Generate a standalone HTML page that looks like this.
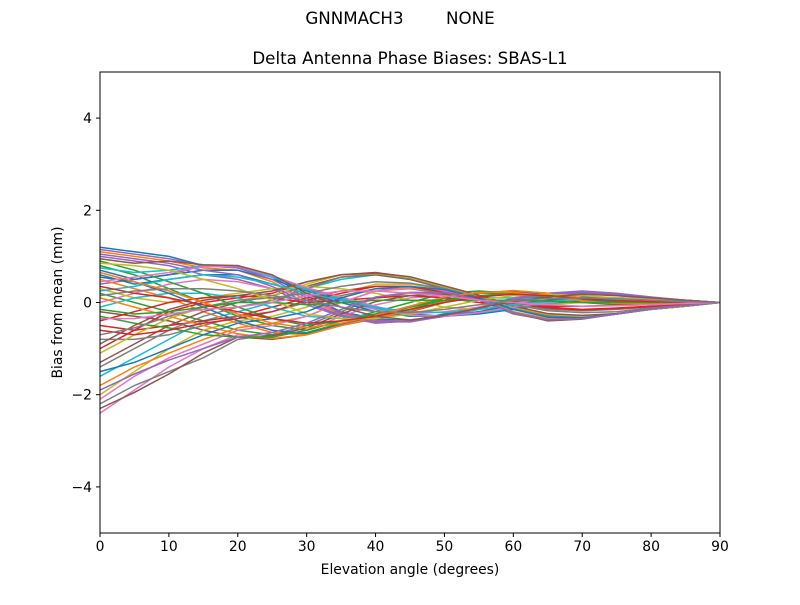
<!DOCTYPE html>
<html><head><meta charset="utf-8"><style>
body{margin:0;background:#fff;}
svg text{font-family:"DejaVu Sans","Liberation Sans",sans-serif;fill:#000;}
</style></head><body>
<svg id="chart" width="800" height="600" xmlns="http://www.w3.org/2000/svg">
<rect width="800" height="600" fill="#fff"/>
<text x="400" y="24" text-anchor="middle" font-size="16.7" xml:space="preserve">GNNMACH3        NONE</text>
<text x="410" y="64" text-anchor="middle" font-size="16.7">Delta Antenna Phase Biases: SBAS-L1</text>
<g id="lines"></g>
<rect x="100" y="72" width="620" height="461" fill="none" stroke="#000" stroke-width="1"/>
<g id="xaxis"></g>
<g id="yaxis"></g>
<text x="410" y="574" text-anchor="middle" font-size="13.9">Elevation angle (degrees)</text>
<text transform="translate(62,302.5) rotate(-90)" text-anchor="middle" font-size="13.9">Bias from mean (mm)</text>
</svg>
<script>
const elevations=[0,5,10,15,20,25,30,35,40,45,50,55,60,65,70,75,80,85,90];
const xTicks=[0,10,20,30,40,50,60,70,80,90];
const yTicks=[-4,-2,0,2,4];
const yTickLabels=["\u22124","\u22122","0","2","4"];
const series=[
[1.2,1.1,1.0,0.8,0.8,0.55,0.15,-0.2,-0.35,-0.4,-0.25,-0.1,0.05,0.15,0.2,0.15,0.1,0.05,0],
[1.1,1.0,0.9,0.75,0.7,0.45,0.05,-0.25,-0.4,-0.4,-0.3,-0.1,0.1,0.2,0.22,0.17,0.1,0.05,0],
[0.8,0.6,0.3,0.0,-0.3,-0.5,-0.6,-0.4,-0.2,0.0,0.2,0.25,0.2,0.1,0.0,-0.05,-0.05,-0.02,0],
[-1.0,-0.6,-0.2,0.0,0.1,0.2,0.45,0.6,0.65,0.55,0.35,0.15,-0.1,-0.25,-0.3,-0.25,-0.15,-0.08,0],
[0.4,0.5,0.6,0.8,0.75,0.55,0.3,0.1,-0.1,-0.3,-0.3,-0.2,-0.1,0.0,0.1,0.1,0.08,0.04,0],
[-0.2,-0.3,-0.4,-0.6,-0.75,-0.8,-0.7,-0.5,-0.35,-0.2,0.0,0.2,0.25,0.2,0.1,0.05,0.02,0.01,0],
[-2.4,-1.9,-1.4,-1.0,-0.7,-0.75,-0.6,-0.3,-0.05,0.1,0.15,0.1,-0.2,-0.4,-0.35,-0.25,-0.15,-0.08,0],
[-2.2,-1.8,-1.5,-1.2,-0.8,-0.7,-0.5,-0.2,0.1,0.2,0.2,0.05,-0.25,-0.38,-0.35,-0.25,-0.15,-0.07,0],
[-2.0,-1.5,-1.0,-0.6,-0.4,-0.3,-0.1,0.2,0.4,0.4,0.3,0.1,-0.2,-0.35,-0.35,-0.25,-0.14,-0.07,0],
[-1.6,-1.2,-0.8,-0.4,-0.2,0.0,0.3,0.5,0.6,0.5,0.35,0.15,-0.15,-0.3,-0.32,-0.25,-0.15,-0.07,0],
[0.7,0.5,0.6,0.7,0.7,0.5,0.25,0.05,-0.15,-0.25,-0.3,-0.25,-0.15,-0.05,0.05,0.08,0.06,0.03,0],
[0.5,0.3,0.1,-0.2,-0.45,-0.65,-0.7,-0.5,-0.3,-0.1,0.1,0.2,0.25,0.15,0.05,0.0,0.0,0.0,0],
[0.2,0.0,-0.2,-0.4,-0.6,-0.7,-0.65,-0.45,-0.3,-0.15,0.05,0.2,0.25,0.2,0.1,0.05,0.02,0.01,0],
[-0.5,-0.6,-0.5,-0.4,-0.3,-0.1,0.1,0.25,0.35,0.35,0.25,0.1,0.0,-0.1,-0.15,-0.12,-0.08,-0.04,0],
[1.0,0.9,0.8,0.6,0.5,0.3,-0.05,-0.3,-0.45,-0.4,-0.3,-0.15,0.1,0.2,0.25,0.2,0.12,0.05,0],
[-1.3,-0.9,-0.5,-0.2,0.0,0.15,0.35,0.55,0.6,0.5,0.3,0.12,-0.12,-0.28,-0.3,-0.25,-0.14,-0.07,0],
[0.0,0.2,0.4,0.5,0.45,0.3,0.15,0.0,-0.15,-0.25,-0.2,-0.1,0.0,0.05,0.1,0.08,0.05,0.02,0],
[-0.8,-0.8,-0.7,-0.5,-0.3,-0.2,0.0,0.15,0.3,0.3,0.2,0.05,-0.05,-0.15,-0.18,-0.15,-0.1,-0.05,0],
[0.3,0.1,0.0,0.1,0.2,0.3,0.35,0.3,0.2,0.05,-0.1,-0.15,-0.1,-0.05,0.0,0.02,0.02,0.01,0],
[-0.1,0.1,0.2,0.2,0.1,-0.1,-0.3,-0.35,-0.25,-0.1,0.05,0.1,0.1,0.08,0.05,0.03,0.02,0.01,0],
[0.6,0.4,0.5,0.6,0.6,0.4,0.2,0.0,-0.2,-0.3,-0.3,-0.2,-0.05,0.05,0.12,0.1,0.07,0.03,0],
[-1.8,-1.4,-1.1,-0.8,-0.55,-0.45,-0.3,0.0,0.25,0.3,0.25,0.08,-0.2,-0.36,-0.34,-0.25,-0.14,-0.07,0],
[0.9,0.7,0.45,0.2,-0.1,-0.35,-0.5,-0.4,-0.3,-0.1,0.1,0.2,0.2,0.15,0.05,0.0,-0.02,-0.01,0],
[-0.4,-0.2,0.0,0.1,0.15,0.1,0.0,0.05,0.1,0.15,0.1,0.0,-0.05,-0.08,-0.08,-0.06,-0.04,-0.02,0],
[1.15,1.05,0.95,0.8,0.75,0.5,0.1,-0.22,-0.38,-0.42,-0.28,-0.12,0.08,0.17,0.21,0.16,0.1,0.05,0],
[-2.3,-1.95,-1.55,-1.1,-0.75,-0.72,-0.55,-0.25,0.02,0.15,0.18,0.08,-0.22,-0.4,-0.36,-0.25,-0.15,-0.08,0],
[-2.1,-1.6,-1.2,-0.9,-0.6,-0.5,-0.3,0.0,0.25,0.32,0.25,0.08,-0.22,-0.37,-0.35,-0.25,-0.14,-0.07,0],
[-1.4,-1.0,-0.6,-0.3,-0.1,0.05,0.3,0.55,0.62,0.52,0.32,0.14,-0.12,-0.3,-0.31,-0.24,-0.14,-0.07,0],
[-1.1,-0.7,-0.35,-0.1,0.05,0.15,0.4,0.6,0.63,0.54,0.34,0.15,-0.1,-0.26,-0.3,-0.25,-0.15,-0.08,0],
[0.75,0.65,0.7,0.8,0.78,0.55,0.28,0.08,-0.12,-0.28,-0.3,-0.22,-0.12,-0.02,0.08,0.1,0.07,0.03,0],
[0.55,0.45,0.2,-0.1,-0.4,-0.6,-0.68,-0.48,-0.28,-0.08,0.12,0.22,0.24,0.16,0.06,0.0,-0.01,0.0,0],
[0.1,-0.1,-0.3,-0.5,-0.68,-0.78,-0.7,-0.5,-0.33,-0.18,0.02,0.2,0.26,0.2,0.1,0.05,0.02,0.01,0],
[-0.3,-0.45,-0.55,-0.7,-0.75,-0.75,-0.6,-0.4,-0.25,-0.1,0.05,0.15,0.2,0.15,0.08,0.04,0.02,0.01,0],
[-0.6,-0.7,-0.6,-0.45,-0.35,-0.2,0.05,0.2,0.35,0.35,0.22,0.08,-0.02,-0.12,-0.16,-0.13,-0.09,-0.04,0],
[1.05,0.95,0.85,0.7,0.6,0.35,0.0,-0.28,-0.42,-0.42,-0.3,-0.12,0.08,0.18,0.24,0.18,0.11,0.05,0],
[-0.9,-0.5,-0.15,0.05,0.15,0.25,0.45,0.6,0.64,0.56,0.36,0.16,-0.08,-0.24,-0.28,-0.24,-0.14,-0.07,0],
[0.45,0.55,0.65,0.78,0.78,0.58,0.32,0.12,-0.08,-0.28,-0.3,-0.22,-0.1,0.0,0.08,0.1,0.08,0.04,0],
[-0.7,-0.55,-0.3,-0.1,0.05,0.1,0.2,0.35,0.45,0.42,0.3,0.12,-0.05,-0.18,-0.22,-0.2,-0.12,-0.06,0],
[0.85,0.8,0.7,0.5,0.3,0.05,-0.25,-0.35,-0.35,-0.25,-0.1,0.05,0.15,0.18,0.15,0.1,0.06,0.03,0],
[0.25,0.35,0.5,0.6,0.55,0.4,0.2,0.05,-0.1,-0.2,-0.22,-0.15,-0.05,0.02,0.08,0.07,0.05,0.02,0],
[-1.5,-1.3,-1.0,-0.7,-0.45,-0.35,-0.2,0.1,0.3,0.35,0.28,0.1,-0.15,-0.32,-0.33,-0.25,-0.14,-0.07,0],
[0.65,0.45,0.25,0.0,-0.25,-0.45,-0.55,-0.45,-0.28,-0.08,0.12,0.22,0.22,0.14,0.04,-0.02,-0.03,-0.01,0],
[-0.15,-0.25,-0.2,-0.1,0.0,0.0,-0.05,0.0,0.05,0.05,0.05,0.05,0.05,0.03,0.0,0.0,0.0,0.0,0],
[0.35,0.2,0.1,-0.05,-0.2,-0.35,-0.45,-0.4,-0.3,-0.15,0.0,0.12,0.18,0.15,0.08,0.04,0.02,0.01,0],
[-1.9,-1.55,-1.25,-1.0,-0.75,-0.65,-0.45,-0.15,0.12,0.22,0.22,0.06,-0.22,-0.37,-0.35,-0.25,-0.14,-0.07,0],
[0.95,0.85,0.9,0.82,0.8,0.6,0.2,-0.1,-0.3,-0.38,-0.28,-0.12,0.02,0.12,0.18,0.15,0.1,0.05,0],
[-0.35,-0.35,-0.25,-0.15,-0.1,0.0,0.15,0.25,0.25,0.2,0.15,0.05,0.0,-0.05,-0.08,-0.07,-0.05,-0.02,0],
[0.15,0.25,0.3,0.3,0.25,0.15,0.05,-0.1,-0.2,-0.22,-0.15,-0.05,0.05,0.08,0.1,0.08,0.05,0.02,0]
];
const colors=["#1f77b4","#ff7f0e","#2ca02c","#d62728","#9467bd","#8c564b","#e377c2","#7f7f7f","#bcbd22","#17becf"];
const NS="http://www.w3.org/2000/svg";
const X0=100,X1=720,Y0=533,Y1=72;
function xs(v){return X0+(v-0)/(90-0)*(X1-X0);}
function ys(v){return Y0-(v+5)/10*(Y0-Y1);}
const gl=document.getElementById('lines');
series.forEach((s,i)=>{
  const p=document.createElementNS(NS,'polyline');
  p.setAttribute('points',s.map((v,j)=>xs(elevations[j]).toFixed(1)+','+ys(v).toFixed(1)).join(' '));
  p.setAttribute('fill','none');
  p.setAttribute('stroke',colors[i%colors.length]);
  p.setAttribute('stroke-width','1.5');
  
  
  gl.appendChild(p);
});
const gx=document.getElementById('xaxis');
xTicks.forEach(t=>{
  const l=document.createElementNS(NS,'line');
  l.setAttribute('x1',xs(t));l.setAttribute('x2',xs(t));l.setAttribute('y1',Y0);l.setAttribute('y2',Y0+4);
  l.setAttribute('stroke','#000');
  
  
  gx.appendChild(l);
  const tx=document.createElementNS(NS,'text');
  tx.setAttribute('x',xs(t));tx.setAttribute('y',Y0+18);tx.setAttribute('text-anchor','middle');tx.setAttribute('font-size','13.9');
  tx.textContent=t;
  
  
  gx.appendChild(tx);
});
const gy=document.getElementById('yaxis');
yTicks.forEach((t,i)=>{
  const l=document.createElementNS(NS,'line');
  l.setAttribute('x1',X0-4);l.setAttribute('x2',X0);l.setAttribute('y1',ys(t));l.setAttribute('y2',ys(t));
  l.setAttribute('stroke','#000');
  
  
  gy.appendChild(l);
  const tx=document.createElementNS(NS,'text');
  tx.setAttribute('x',X0-8);tx.setAttribute('y',ys(t)+5);tx.setAttribute('text-anchor','end');tx.setAttribute('font-size','13.9');
  tx.textContent=yTickLabels[i];
  
  
  gy.appendChild(tx);
});
</script>
</body></html>
